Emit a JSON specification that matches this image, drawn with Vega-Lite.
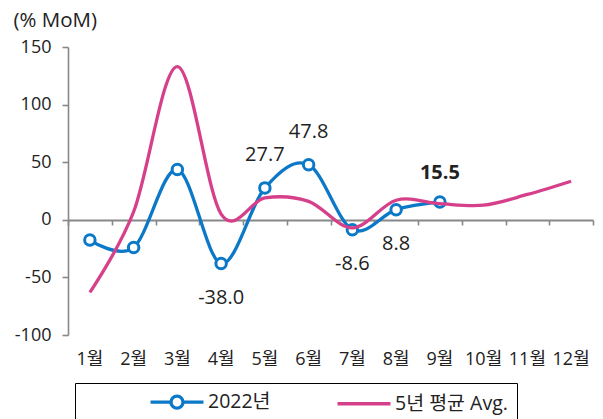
{
  "$schema": "https://vega.github.io/schema/vega-lite/v6.json",
  "autosize": {"type": "none"},
  "width": 525,
  "height": 288,
  "padding": {"left": 68, "top": 47, "right": 10, "bottom": 84},
  "background": "white",
  "config": {
    "font": "'Open Sans', 'Noto Sans CJK KR'",
    "view": {"stroke": null},
    "locale": {"number": {"decimal": ".", "thousands": ",", "grouping": [3], "currency": ["$", ""], "minus": "-"}},
    "axis": {"labelFont": "'Open Sans', 'Noto Sans CJK KR'", "labelColor": "#222222", "labelFontSize": 18, "grid": false}
  },
  "data": {"values": [
    {"m": "1월", "mi": 1, "s": "2022년", "v": -17.6},
    {"m": "2월", "mi": 2, "s": "2022년", "v": -24.0},
    {"m": "3월", "mi": 3, "s": "2022년", "v": 43.6},
    {"m": "4월", "mi": 4, "s": "2022년", "v": -38.0},
    {"m": "5월", "mi": 5, "s": "2022년", "v": 27.7},
    {"m": "6월", "mi": 6, "s": "2022년", "v": 47.8},
    {"m": "7월", "mi": 7, "s": "2022년", "v": -8.6},
    {"m": "8월", "mi": 8, "s": "2022년", "v": 8.8},
    {"m": "9월", "mi": 9, "s": "2022년", "v": 15.5},
    {"m": "1월", "mi": 1, "s": "5년 평균 Avg.", "v": -63},
    {"m": "2월", "mi": 2, "s": "5년 평균 Avg.", "v": 7},
    {"m": "3월", "mi": 3, "s": "5년 평균 Avg.", "v": 133},
    {"m": "4월", "mi": 4, "s": "5년 평균 Avg.", "v": 5},
    {"m": "5월", "mi": 5, "s": "5년 평균 Avg.", "v": 19},
    {"m": "6월", "mi": 6, "s": "5년 평균 Avg.", "v": 16},
    {"m": "7월", "mi": 7, "s": "5년 평균 Avg.", "v": -7},
    {"m": "8월", "mi": 8, "s": "5년 평균 Avg.", "v": 17},
    {"m": "9월", "mi": 9, "s": "5년 평균 Avg.", "v": 14},
    {"m": "10월", "mi": 10, "s": "5년 평균 Avg.", "v": 12.7},
    {"m": "11월", "mi": 11, "s": "5년 평균 Avg.", "v": 22},
    {"m": "12월", "mi": 12, "s": "5년 평균 Avg.", "v": 33.5}
  ]},
  "resolve": {"axis": {"x": "independent"}},
  "layer": [
    {
      "transform": [{"filter": "datum.s == '2022년'"}],
      "mark": {"type": "line", "interpolate": "cardinal", "strokeWidth": 3.3},
      "encoding": {
        "x": {"field": "m", "type": "ordinal",
              "sort": ["1월","2월","3월","4월","5월","6월","7월","8월","9월","10월","11월","12월"],
              "scale": {"domain": ["1월","2월","3월","4월","5월","6월","7월","8월","9월","10월","11월","12월"], "paddingInner": 0, "paddingOuter": 0},
              "axis": {"orient": "bottom", "title": null, "domain": false, "ticks": false, "labelAngle": 0, "labelPadding": 15, "labelBaseline": "top"}},
        "y": {"field": "v", "type": "quantitative",
              "scale": {"domain": [-100, 150], "nice": false, "zero": false},
              "axis": {"values": [-100, -50, 0, 50, 100, 150], "title": "(% MoM)", "titleAngle": 0, "titleX": -55, "titleY": -27,
                       "titleAlign": "left", "titleBaseline": "middle", "titleFontSize": 20.5, "titleFontWeight": "normal",
                       "titleFont": "'Open Sans', 'Noto Sans CJK KR'", "titleColor": "#222222",
                       "domainColor": "#888888", "domainWidth": 1.6, "tickColor": "#888888", "tickWidth": 1.6, "tickSize": 6, "labelPadding": 11}},
        "color": {"field": "s", "type": "nominal",
                  "scale": {"domain": ["2022년", "5년 평균 Avg."], "range": ["#0c78c8", "#d6408a"]},
                  "legend": {"orient": "none", "legendX": 7, "legendY": 336, "direction": "horizontal", "columns": 2, "title": null,
                             "padding": 9, "symbolOffset": 83, "columnPadding": -4, "labelFontSize": 19.5, "labelOffset": 21,
                             "labelColor": "#222222", "labelFont": "'Open Sans', 'Noto Sans CJK KR'",
                             "strokeColor": "#000000", "fillColor": "white", "symbolSize": 256, "symbolStrokeWidth": 3.3,
                             "encode": {
                               "symbols": {"update": {
                                 "shape": {"signal": "datum.value === '2022년' ? 'M-3.31,0H-0.75M0.75,0H3.31M0.75,0A0.75,0.75,0,1,1,-0.75,0A0.75,0.75,0,1,1,0.75,0' : 'M-3.31,0H3.31'"},
                                 "fill": {"value": "white"},
                                 "strokeWidth": {"value": 3.3}
                               }},
                               "legend": {"update": {"width": {"value": 502}}}
                             }}}
      }
    },
    {
      "transform": [{"filter": "datum.s == '2022년'"}],
      "mark": {"type": "point", "filled": true, "fill": "white", "stroke": "#0c78c8", "strokeWidth": 3, "size": 110, "opacity": 1},
      "encoding": {
        "x": {"field": "m", "type": "ordinal",
              "sort": ["1월","2월","3월","4월","5월","6월","7월","8월","9월","10월","11월","12월"],
              "axis": {"orient": "top", "offset": -173, "title": null, "labels": false, "domainColor": "#888888", "domainWidth": 2,
                       "tickColor": "#888888", "tickWidth": 1.6, "tickSize": -5, "tickBand": "extent"}},
        "y": {"field": "v", "type": "quantitative"}
      }
    },
    {
      "transform": [{"filter": "datum.s == '5년 평균 Avg.'"}],
      "mark": {"type": "line", "interpolate": "cardinal", "strokeWidth": 3.3},
      "encoding": {
        "x": {"field": "m", "type": "ordinal", "axis": null, "sort": ["1월","2월","3월","4월","5월","6월","7월","8월","9월","10월","11월","12월"]},
        "y": {"field": "v", "type": "quantitative"},
        "color": {"field": "s", "type": "nominal"}
      }
    },
    {
      "transform": [{"filter": "datum.s == '2022년' && datum.mi >= 4 && datum.mi != 9 && datum.v > 10"}],
      "mark": {"type": "text", "dy": -33, "fontSize": 20, "color": "#222222", "baseline": "middle"},
      "encoding": {
        "x": {"field": "m", "type": "ordinal", "axis": null, "sort": ["1월","2월","3월","4월","5월","6월","7월","8월","9월","10월","11월","12월"]},
        "y": {"field": "v", "type": "quantitative"},
        "text": {"field": "v", "type": "quantitative", "format": ".1f"}
      }
    },
    {
      "transform": [{"filter": "datum.s == '2022년' && datum.mi == 9"}],
      "mark": {"type": "text", "dy": -29, "fontSize": 20, "fontWeight": "bold", "color": "#222222", "baseline": "middle"},
      "encoding": {
        "x": {"field": "m", "type": "ordinal", "axis": null, "sort": ["1월","2월","3월","4월","5월","6월","7월","8월","9월","10월","11월","12월"]},
        "y": {"field": "v", "type": "quantitative"},
        "text": {"field": "v", "type": "quantitative", "format": ".1f"}
      }
    },
    {
      "transform": [{"filter": "datum.s == '2022년' && datum.mi >= 4 && datum.v <= 10"}],
      "mark": {"type": "text", "dy": 34, "fontSize": 20, "color": "#222222", "baseline": "middle"},
      "encoding": {
        "x": {"field": "m", "type": "ordinal", "axis": null, "sort": ["1월","2월","3월","4월","5월","6월","7월","8월","9월","10월","11월","12월"]},
        "y": {"field": "v", "type": "quantitative"},
        "text": {"field": "v", "type": "quantitative", "format": ".1f"}
      }
    }
  ]
}
